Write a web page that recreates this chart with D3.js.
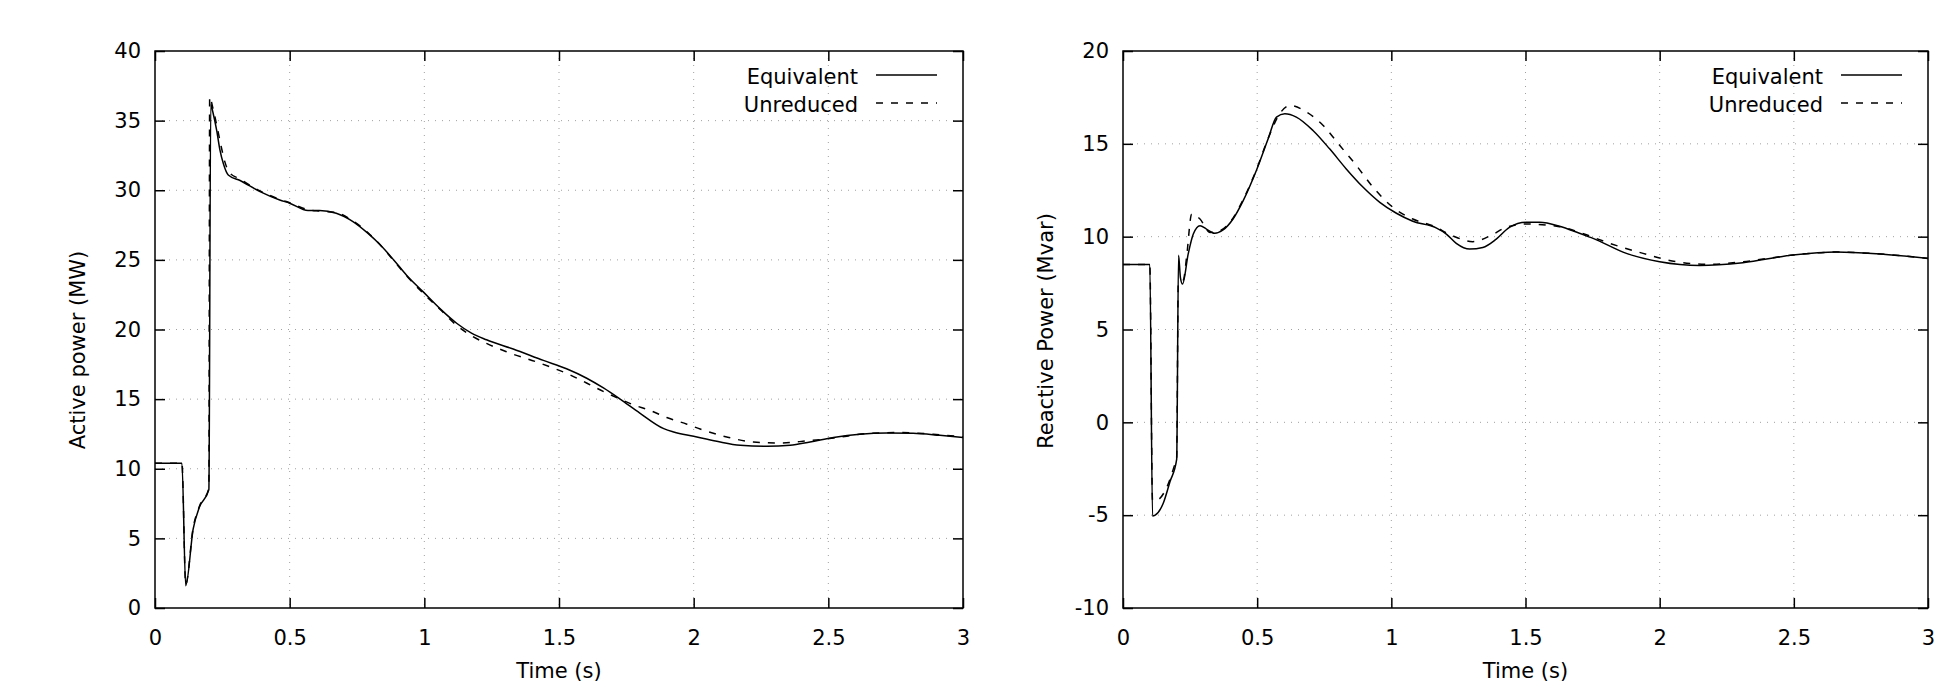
<!DOCTYPE html>
<html>
<head>
<meta charset="utf-8">
<script src="https://cdn.jsdelivr.net/npm/d3@7"></script>
<style>
  body { margin: 0; background: #fff; }
  svg { display: block; font-family: "DejaVu Sans", sans-serif; }
</style>
</head>
<body>
<div id="chart"></div>
<script>
// active power, equivalent model
const pEqT = [0, 0.1, 0.114, 0.142, 0.165, 0.2, 0.207, 0.215, 0.229, 0.241, 0.254, 0.272, 0.316, 0.39, 0.463, 0.5,
  0.568, 0.611, 0.673, 0.735, 0.791, 0.835, 0.884, 0.934, 0.996, 1.058, 1.12, 1.175, 1.231, 1.33, 1.442, 1.528,
  1.603, 1.665, 1.727, 1.8, 1.889, 1.926, 2.0, 2.086, 2.173, 2.272, 2.358, 2.432, 2.519, 2.617, 2.716, 2.815, 2.914, 3.0];
const pEqV = [10.4, 10.4, 1.6, 5.7, 7.25, 8.5, 36.2, 35.6, 34.3, 32.9, 31.9, 31.1, 30.7, 29.9, 29.3, 29.07,
  28.54, 28.54, 28.35, 27.75, 26.9, 26.1, 25.05, 23.9, 22.7, 21.5, 20.45, 19.74, 19.26, 18.6, 17.78, 17.18,
  16.5, 15.8, 15.0, 14.0, 12.88, 12.64, 12.33, 11.97, 11.68, 11.61, 11.68, 11.92, 12.24, 12.48, 12.57, 12.55, 12.4, 12.24];

// active power, unreduced model
const pUnT = [0, 0.1, 0.114, 0.142, 0.165, 0.2, 0.203, 0.215, 0.23, 0.245, 0.26, 0.275, 0.316, 0.39, 0.463, 0.5,
  0.568, 0.611, 0.673, 0.735, 0.791, 0.835, 0.884, 0.934, 0.996, 1.058, 1.12, 1.175, 1.231, 1.305, 1.43, 1.54,
  1.652, 1.727, 1.778, 1.838, 1.9, 1.975, 2.024, 2.123, 2.222, 2.321, 2.42, 2.519, 2.642, 2.765, 2.889, 3.0];
const pUnV = [10.4, 10.4, 1.7, 5.8, 7.3, 8.6, 36.7, 35.9, 34.6, 33.2, 32.0, 31.3, 30.8, 29.95, 29.35, 29.1,
  28.6, 28.5, 28.4, 27.8, 26.95, 26.1, 25.0, 23.85, 22.6, 21.45, 20.3, 19.55, 19.0, 18.4, 17.58, 16.75,
  15.67, 15.0, 14.58, 14.19, 13.68, 13.2, 12.85, 12.28, 11.92, 11.85, 12.0, 12.2, 12.52, 12.6, 12.48, 12.28];

// reactive power, equivalent model
const qEqT = [0, 0.1, 0.11, 0.12, 0.15, 0.175, 0.2, 0.207, 0.214, 0.222, 0.243, 0.262, 0.287, 0.311, 0.342, 0.373,
  0.41, 0.448, 0.497, 0.541, 0.572, 0.603, 0.646, 0.708, 0.77, 0.832, 0.895, 0.957, 1.019, 1.08, 1.167, 1.205,
  1.242, 1.292, 1.341, 1.391, 1.44, 1.502, 1.552, 1.627, 1.701, 1.752, 1.876, 2.0, 2.149, 2.31, 2.497, 2.658, 2.807, 3.0];
const qEqV = [8.5, 8.5, -5.05, -5.0, -4.36, -3.2, -2.0, 9.0, 7.8, 7.45, 9.07, 10.14, 10.59, 10.41, 10.18, 10.36,
  10.95, 11.94, 13.56, 15.27, 16.44, 16.62, 16.44, 15.72, 14.73, 13.65, 12.66, 11.85, 11.26, 10.83, 10.47, 10.14,
  9.64, 9.33, 9.42, 9.87, 10.5, 10.77, 10.77, 10.56, 10.18, 9.91, 9.1, 8.65, 8.45, 8.6, 9.01, 9.17, 9.08, 8.83];

// reactive power, unreduced model
const qUnT = [0, 0.1, 0.11, 0.123, 0.163, 0.19, 0.2, 0.206, 0.225, 0.237, 0.256, 0.287, 0.324, 0.361, 0.41, 0.448,
  0.497, 0.541, 0.584, 0.622, 0.684, 0.746, 0.808, 0.87, 0.932, 1.006, 1.08, 1.154, 1.228, 1.303, 1.377, 1.427,
  1.502, 1.627, 1.701, 1.814, 1.938, 2.062, 2.186, 2.31, 2.497, 2.658, 2.807, 3.0];
const qUnV = [8.5, 8.5, -4.2, -4.2, -3.5, -2.4, -1.9, 7.5, 7.66, 8.9, 11.22, 10.95, 10.23, 10.32, 11.0, 12.0,
  13.6, 15.3, 16.62, 17.07, 16.71, 15.99, 14.91, 13.83, 12.66, 11.58, 10.95, 10.59, 10.05, 9.73, 10.11, 10.5,
  10.68, 10.54, 10.23, 9.64, 9.1, 8.65, 8.51, 8.65, 9.01, 9.17, 9.08, 8.83];

const xTicks = [0, 0.5, 1, 1.5, 2, 2.5, 3];
const pTicks = [0, 5, 10, 15, 20, 25, 30, 35, 40];
const qTicks = [-10, -5, 0, 5, 10, 15, 20];
const legendNames = ["Equivalent", "Unreduced"];

const width = 1957, height = 682;
const fs = 21;

const svg = d3.select("#chart").append("svg")
  .attr("width", width)
  .attr("height", height);

function drawPanel(left, right, yDomain, yTicks, yLabel, labelY, series) {
  const top = 51, bottom = 608;
  const x = d3.scaleLinear().domain([0, 3]).range([left, right]);
  const y = d3.scaleLinear().domain(yDomain).range([bottom, top]);
  const g = svg.append("g");

  // dotted grid
  g.append("g").selectAll("line")
    .data(xTicks.slice(1, -1))
    .join("line")
    .attr("x1", d => x(d)).attr("x2", d => x(d))
    .attr("y1", top).attr("y2", bottom)
    .attr("stroke", "#a0a0a0").attr("stroke-width", 1)
    .attr("stroke-dasharray", "1,6");
  g.append("g").selectAll("line")
    .data(yTicks.slice(1, -1))
    .join("line")
    .attr("y1", d => y(d)).attr("y2", d => y(d))
    .attr("x1", left).attr("x2", right)
    .attr("stroke", "#a0a0a0").attr("stroke-width", 1)
    .attr("stroke-dasharray", "1,6");

  // axes, ticks pointing inward (mirrored on top and right)
  const fmt = d => String(d);
  const ax = g.append("g").attr("transform", `translate(0,${bottom})`)
    .call(d3.axisBottom(x).tickValues(xTicks).tickFormat(fmt).tickSize(-10).tickPadding(22));
  const ay = g.append("g").attr("transform", `translate(${left},0)`)
    .call(d3.axisLeft(y).tickValues(yTicks).tickFormat(fmt).tickSize(-10).tickPadding(14));
  const axT = g.append("g").attr("transform", `translate(0,${top})`)
    .call(d3.axisTop(x).tickValues(xTicks).tickFormat("").tickSize(-10));
  const ayR = g.append("g").attr("transform", `translate(${right},0)`)
    .call(d3.axisRight(y).tickValues(yTicks).tickFormat("").tickSize(-10));
  [ax, ay, axT, ayR].forEach(a => {
    a.select(".domain").remove();
    a.selectAll(".tick line").attr("stroke", "#000").attr("stroke-width", 1.5);
    a.selectAll("text").attr("font-size", fs).attr("fill", "#000")
      .attr("font-family", "DejaVu Sans, sans-serif");
  });

  g.append("rect")
    .attr("x", left).attr("y", top)
    .attr("width", right - left).attr("height", bottom - top)
    .attr("fill", "none").attr("stroke", "#000").attr("stroke-width", 1.5);

  const line = d3.line()
    .x(d => x(d[0])).y(d => y(d[1]))
    .curve(d3.curveMonotoneX);

  series.forEach((s, i) => {
    g.append("path")
      .datum(d3.zip(s.t, s.v))
      .attr("d", line)
      .attr("fill", "none")
      .attr("stroke", "#000")
      .attr("stroke-width", 1.5)
      .attr("stroke-linejoin", "round")
      .attr("stroke-dasharray", i === 0 ? null : "7,8");

    // legend
    const ly = 75 + i * 28;
    g.append("text")
      .attr("x", right - 105).attr("y", ly + 9)
      .attr("text-anchor", "end")
      .attr("font-size", fs)
      .text(legendNames[i]);
    g.append("line")
      .attr("x1", right - 87).attr("x2", right - 26)
      .attr("y1", ly).attr("y2", ly)
      .attr("stroke", "#000").attr("stroke-width", 1.5)
      .attr("stroke-dasharray", i === 0 ? null : "7,8");
  });

  g.append("text")
    .attr("x", (left + right) / 2).attr("y", 678)
    .attr("text-anchor", "middle")
    .attr("font-size", fs)
    .text("Time (s)");

  g.append("text")
    .attr("transform", `translate(${left - 70},${labelY}) rotate(-90)`)
    .attr("text-anchor", "middle")
    .attr("font-size", fs)
    .text(yLabel);
}

drawPanel(155, 963, [0, 40], pTicks, "Active power (MW)", 350, [
  {t: pEqT, v: pEqV},
  {t: pUnT, v: pUnV}
]);

drawPanel(1123, 1928, [-10, 20], qTicks, "Reactive Power (Mvar)", 331, [
  {t: qEqT, v: qEqV},
  {t: qUnT, v: qUnV}
]);
</script>
</body>
</html>
